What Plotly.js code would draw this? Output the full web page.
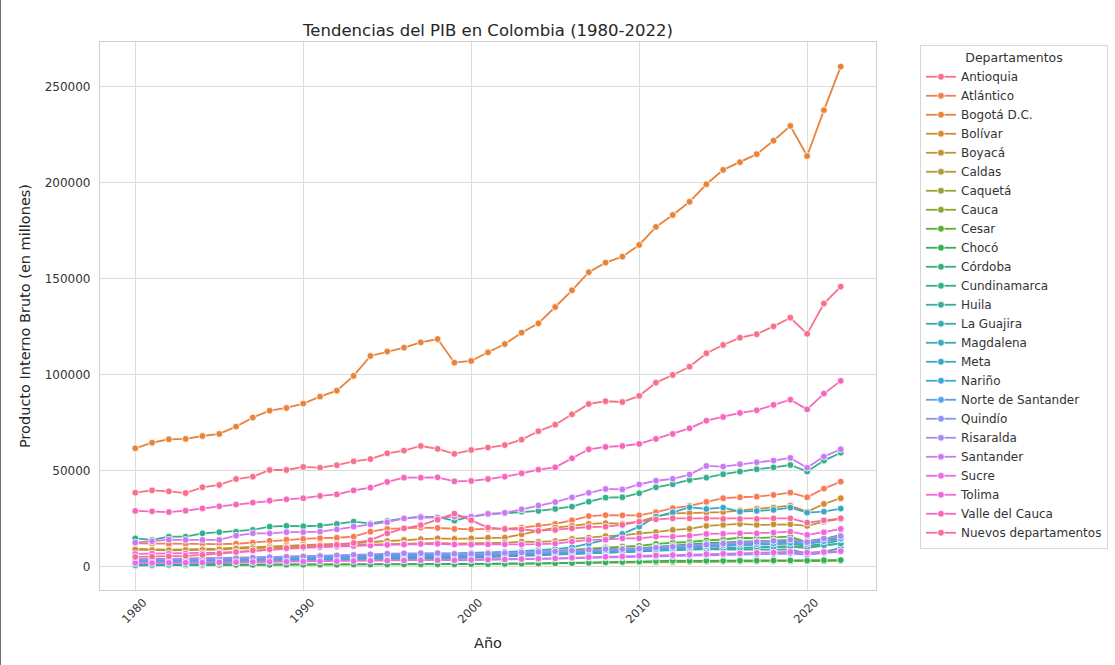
<!DOCTYPE html>
<html>
<head>
<meta charset="utf-8">
<script src="https://cdn.plot.ly/plotly-3.0.1.min.js"></script>
<style>
html,body{margin:0;padding:0;background:#fff;}
#chart{width:1115px;height:665px;position:relative;}
#edge{position:absolute;left:0;top:0;width:1px;height:665px;background:#707070;}
</style>
</head>
<body>
<div id="chart"></div>
<div id="edge"></div>
<script>
const years = [1980,1981,1982,1983,1984,1985,1986,1987,1988,1989,
  1990,1991,1992,1993,1994,1995,1996,1997,1998,1999,
  2000,2001,2002,2003,2004,2005,2006,2007,2008,2009,
  2010,2011,2012,2013,2014,2015,2016,2017,2018,2019,
  2020,2021,2022];

const departamentos = ["Antioquia","Atlántico","Bogotá D.C.","Bolívar","Boyacá","Caldas","Caquetá","Cauca","Cesar","Chocó","Córdoba","Cundinamarca","Huila","La Guajira","Magdalena","Meta","Nariño","Norte de Santander","Quindío","Risaralda","Santander","Sucre","Tolima","Valle del Cauca","Nuevos departamentos"];

const colores = ["#f77189","#f67c55","#e7843a","#d38b32","#c09432","#ae9d31","#9ba231","#88a731","#5fae31","#32b155","#33b07a","#34af8b","#35ae9b","#36aca9","#37abb6","#38a9c5","#3aa6dc","#56a0f0","#8795f4","#a98af4","#cc7af4","#e86ce8","#f566d7","#f567bb","#f66c9f"];

const antioquia = [38700,39900,39400,38500,41500,42700,45800,47000,50500,50500,
  52100,51700,53000,55000,56200,59200,60600,63000,61500,58900,
  60900,62200,63500,66300,70700,74100,79500,84900,86300,85900,
  89100,96000,100000,104300,111300,115600,119400,121200,125300,129800,
  121400,137200,146000];
const atlantico = [12300,12200,12000,11900,11800,11900,12100,12700,13600,14200,
  14600,15000,15200,15800,18400,19800,20100,20500,20300,19800,
  19600,19800,19800,20500,21500,22400,24300,26500,27000,26900,
  26900,28500,30600,31800,33900,35800,36300,36600,37500,38700,
  36300,40800,44400];
const bogota = [61800,64700,66500,66700,68200,69300,73100,77800,81400,82800,
  85100,88700,91800,99500,109900,112200,114200,117000,118700,106400,
  107300,111800,116100,122000,126900,135400,144100,153500,158500,161600,
  167700,177100,183300,190200,199300,206800,210800,215000,222000,229700,
  214000,237900,260600];
const bolivar = [9400,9200,9000,9200,9300,9500,10000,10400,10800,11200,
  11500,11700,12000,12300,13000,13500,14100,14500,14900,14600,
  14900,15300,15300,17000,18800,20500,21400,22400,22800,22600,
  23600,26200,27900,28000,28300,28600,29500,30300,30900,31900,
  28800,32800,35800];
const boyaca = [9000,8800,8700,8800,8900,9100,9500,9700,10000,10300,
  10600,10800,11000,11300,11600,11900,12100,12300,12500,12200,
  12300,12300,12600,13200,13100,13500,14600,15300,16100,16400,
  17500,18100,19300,19800,21400,21900,22400,21900,22200,22200,
  21400,23600,25000];
const caldas = [4000,4100,4100,4200,4300,4500,4800,5000,5200,5300,
  5500,5600,5800,6000,6300,6500,6600,6500,6400,6100,
  6300,6400,6500,6700,6900,7100,7500,7900,8100,8000,
  8500,8800,9000,9300,9600,9800,10000,10100,10300,10500,
  9800,11200,12300];
const caqueta = [900,900,1000,1000,1000,1100,1100,1200,1200,1300,
  1300,1300,1400,1400,1500,1500,1600,1600,1600,1500,
  1600,1600,1700,1800,1900,2000,2100,2200,2300,2400,
  2400,2500,2600,2700,2800,2800,2900,2900,3000,3000,
  2900,3100,3300];
const cauca = [3600,3700,3700,3800,3900,4000,4300,4500,4700,4800,
  5000,5200,5400,5700,5900,6200,6400,6500,6600,6300,
  6400,6600,6900,7200,7600,7900,8400,8900,9200,9300,
  9500,10000,10500,11000,11800,12300,12800,13000,13300,13600,
  13200,14500,15500];
const cesar = [2500,2600,2600,2700,2800,2900,3100,3200,3400,3500,
  3600,3700,3800,4000,4200,4400,4600,4800,5000,5100,
  5500,5900,6300,7000,7800,8400,9000,9600,10200,10600,
  11000,12000,12600,13000,13800,14300,15200,15000,15400,15800,
  12800,14200,16800];
const choco = [1000,1000,1000,1000,1000,1100,1100,1100,1100,1200,
  1200,1200,1200,1300,1300,1300,1400,1400,1400,1400,
  1500,1500,1600,1700,1800,1900,2000,2200,2400,2600,
  2800,3100,3300,3200,3300,3200,3300,3300,3400,3400,
  3300,3500,3600];
const cordoba = [3800,3900,3900,4000,4100,4200,4400,4500,4700,4800,
  5000,5100,5300,5500,5800,6000,6100,6200,6300,6200,
  6300,6500,6800,7200,7600,8000,8500,9000,9500,9600,
  9800,10500,11200,11800,12400,12800,13200,13400,13700,14000,
  13500,14800,16200];
const cundinamarca = [14900,14100,15800,15800,17500,18100,18400,19300,21000,21400,
  21200,21500,22400,23600,22700,24000,25300,26200,25900,24100,
  26200,27400,28000,28800,29200,30200,31400,34000,36100,36300,
  38400,41500,43100,45300,46500,48300,49700,50900,51900,53100,
  49700,55400,59500];
const huila = [3300,3400,3400,3500,3700,3900,4100,4300,4500,4600,
  4800,5000,5200,5500,5800,6000,6200,6400,6600,6400,
  6600,6800,7000,7300,7600,7900,8300,8700,9000,9100,
  9300,9800,10200,10600,11000,11200,11400,11600,11900,12200,
  11000,12200,13800];
const laGuajira = [900,1000,1100,1300,1600,2000,2400,2700,2900,3000,
  3200,3300,3500,3600,3800,4000,4200,4300,4500,4600,
  4800,5100,5300,5600,6000,6400,6800,7200,7600,7800,
  8000,8800,9000,9200,9300,9000,8900,8800,9000,9200,
  7000,7800,10000];
const magdalena = [2800,2900,2900,3000,3100,3200,3400,3500,3600,3700,
  3800,3900,4000,4200,4400,4600,4800,5000,5100,5100,
  5400,5600,5800,6000,6300,6500,6800,7200,7500,7600,
  7800,8200,8600,9000,9400,9700,10000,10200,10500,10800,
  10400,11300,12200];
const meta = [3200,3300,3400,3500,3600,3800,4000,4200,4400,4600,
  4800,5000,5200,5500,5900,6200,6400,6700,6900,7000,
  7200,7500,7800,8200,8700,9300,10200,12200,14100,17200,
  21000,26200,28400,31100,30200,30900,28800,29200,29700,30900,
  28300,28800,30400];
const narino = [3000,3100,3100,3200,3300,3400,3600,3800,3900,4000,
  4100,4300,4500,4700,4900,5100,5300,5400,5500,5400,
  5600,5800,6000,6300,6600,7000,7500,8000,8300,8500,
  8800,9300,9800,10300,10900,11400,11800,12000,12300,12600,
  12200,13600,14400];
const norteSantander = [3300,3400,3400,3500,3600,3700,3900,4100,4200,4400,
  4500,4700,4900,5100,5300,5600,5800,5900,6000,5800,
  6000,6200,6400,6700,7000,7300,7700,8100,8400,8400,
  8600,9100,9600,10100,10700,11200,11600,11900,12200,12500,
  12000,13400,14800];
const quindio = [2200,2300,2300,2400,2500,2600,2800,2900,3000,3100,
  3200,3300,3400,3600,3800,3900,3900,3800,3700,3400,
  3600,3700,3800,3900,4100,4300,4500,4800,5000,5000,
  5200,5400,5600,5800,6100,6300,6500,6600,6800,7000,
  6500,7300,8000];
const risaralda = [3800,3900,4000,4100,4200,4400,4700,4900,5100,5300,
  5500,5700,6000,6300,6600,6900,7100,7200,7200,6800,
  6800,7000,7200,7500,7800,8100,8500,9000,9300,9300,
  9500,10000,10500,11000,11600,12100,12600,13000,13600,14200,
  12900,14800,16100];
const santander = [12700,13400,14200,14100,14100,14100,16300,17500,17500,18100,
  18100,18400,19600,21000,22200,23300,25300,25900,25700,26200,
  26200,27700,28200,30000,32000,33800,36200,38600,40600,40400,
  43000,44900,45900,48100,52600,52300,53500,54500,55400,56800,
  51700,57500,61300];
const sucre = [2100,2100,2200,2200,2300,2400,2500,2600,2700,2700,
  2800,2900,3000,3100,3200,3300,3400,3500,3500,3500,
  3700,3800,3900,4100,4300,4500,4800,5100,5300,5500,
  5800,6000,6200,6400,6700,6900,7100,7300,7500,7800,
  7500,7800,8200];
const tolima = [6800,6900,6900,7000,7200,7500,7900,8300,8900,9400,
  10000,10200,10600,10900,11200,11500,11700,12000,12100,11700,
  11600,11800,11800,11700,11900,12200,13200,14100,14200,14900,
  14900,15800,15800,16300,17200,17300,17500,17500,17900,18400,
  16700,18100,19800];
const valle = [29200,29000,28600,29300,30500,31600,32500,33500,34500,35200,
  35800,37000,37800,39900,41300,44300,46500,46500,46700,44600,
  44800,45800,47000,48800,50700,51900,56600,61300,62500,63000,
  64100,66700,69300,72200,76200,78100,80200,81600,84400,87100,
  82100,90300,96900];
const nuevos = [5200,5400,5500,5800,6300,7000,7800,8600,9200,9800,
  10500,11000,11500,12500,14000,17500,20100,21800,24600,27800,
  24300,20500,19800,19500,18800,19300,20100,20800,21000,21900,
  23600,24800,25300,25300,25300,25000,25000,25000,25300,25300,
  23100,24300,25300];

const series = [antioquia,atlantico,bogota,bolivar,boyaca,caldas,caqueta,cauca,cesar,choco,cordoba,cundinamarca,huila,laGuajira,magdalena,meta,narino,norteSantander,quindio,risaralda,santander,sucre,tolima,valle,nuevos];

const xTicks = [1980,1990,2000,2010,2020];
const yTicks = [0,50000,100000,150000,200000,250000];

const traces = departamentos.map((name,i)=>({
  type:'scatter', mode:'lines+markers', name:name, x:years, y:series[i],
  line:{color:colores[i], width:1.8},
  marker:{color:colores[i], size:6.8, line:{color:'#ffffff', width:0.8}},
  hoverinfo:'x+y+name'
}));

const font = "DejaVu Sans, Verdana, sans-serif";
const layout = {
  width:1115, height:665,
  margin:{l:100, r:239, t:42, b:75, pad:0, autoexpand:false},
  paper_bgcolor:'#ffffff', plot_bgcolor:'#ffffff',
  font:{family:font, color:'#262626', size:12},
  title:{text:'Tendencias del PIB en Colombia (1980-2022)', font:{family:font,size:16.5,color:'#262626'}, x:0.4377, xanchor:'center', y:0.955, yanchor:'middle'},
  xaxis:{
    range:[1977.9,2024.1], tickvals:xTicks, ticktext:xTicks.map(String),
    tickangle:-45, ticklabelshift:8, ticks:'', showgrid:true, gridcolor:'#dcdcdc', gridwidth:1,
    zeroline:false, showline:true, mirror:true, linecolor:'#cfcfcf', linewidth:1.25,
    tickfont:{size:11.5,color:'#333333'},
    title:{text:'Año', font:{size:14.5,color:'#262626'}, standoff:12}
  },
  yaxis:{
    range:[-12000,273400], tickvals:yTicks, ticktext:yTicks.map(String),
    ticks:'', showgrid:true, gridcolor:'#dcdcdc', gridwidth:1,
    zeroline:false, showline:true, mirror:true, linecolor:'#cfcfcf', linewidth:1.25,
    tickfont:{size:12,color:'#333333'}, ticklabelstandoff:6,
    title:{text:'Producto Interno Bruto (en millones)', font:{size:14.5,color:'#262626'}, standoff:10}
  },
  legend:{
    x:1.0567, xanchor:'left', y:0.9945, yanchor:'top',
    bgcolor:'rgba(255,255,255,0.9)', bordercolor:'#d6d6d6', borderwidth:1,
    font:{size:12, color:'#333333'}, itemwidth:30,
    title:{text:'Departamentos', side:'top center', font:{size:12.5,color:'#333333'}}
  },
  showlegend:true
};

Plotly.newPlot('chart', traces, layout, {displayModeBar:false});
</script>
</body>
</html>
